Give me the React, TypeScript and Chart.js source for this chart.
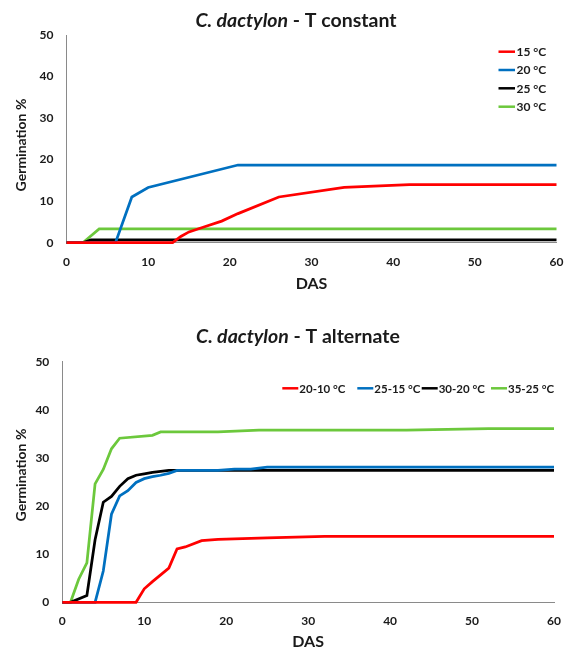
import React, { useEffect, useRef } from 'react';
import { Chart, registerables } from 'chart.js';
Chart.register(...registerables);

const FONT = 'Lato, "Open Sans", "DejaVu Sans", sans-serif';
const TEXT = '#1a1a1a';
const AXIS = '#8a8a8a';

// ---------- Top chart: constant temperatures ----------
const constLabels = ['15 °C', '20 °C', '25 °C', '30 °C'];
const c15Days = [0, 13, 14, 15, 17, 19, 21, 26, 34, 42, 60];
const c15Vals = [0, 0, 1.5, 2.6, 3.9, 5.2, 7.0, 11.0, 13.3, 14.0, 14.0];
const c20Days = [0, 6, 8, 10, 21, 60];
const c20Vals = [0, 0, 11.0, 13.3, 18.7, 18.7];
const c25Days = [0, 2, 3, 60];
const c25Vals = [0, 0, 0.7, 0.7];
const c30Days = [0, 2, 4, 60];
const c30Vals = [0, 0, 3.3, 3.3];

// ---------- Bottom chart: alternating temperatures ----------
const altLabels = ['20-10 °C', '25-15 °C', '30-20 °C', '35-25 °C'];
const a2010Days = [0, 9, 10, 11, 12, 13, 14, 15, 17, 19, 25, 32, 60];
const a2010Vals = [0, 0, 2.8, 4.3, 5.7, 7.1, 11.1, 11.5, 12.8, 13.1, 13.4, 13.7, 13.7];
const a2515Days = [0, 4, 5, 6, 7, 8, 9, 10, 11, 12, 13, 14, 19, 21, 23, 25, 60];
const a2515Vals = [0, 0, 6.5, 18.3, 22.1, 23.2, 24.9, 25.7, 26.1, 26.4, 26.8, 27.4, 27.4, 27.7, 27.7, 28.1, 28.1];
const a3020Days = [0, 1, 3, 4, 5, 6, 7, 8, 9, 10, 11, 12, 13, 60];
const a3020Vals = [0, 0, 1.4, 13.0, 20.8, 22.0, 24.1, 25.7, 26.4, 26.7, 27.0, 27.2, 27.4, 27.4];
const a3525Days = [0, 1, 2, 3, 4, 5, 6, 7, 11, 12, 19, 24, 42, 52, 60];
const a3525Vals = [0, 0, 4.8, 8.2, 24.6, 27.6, 31.9, 34.1, 34.7, 35.4, 35.4, 35.8, 35.8, 36.1, 36.1];

const seriesColors = ['#ff0000', '#0070c0', '#000000', '#6cc83c'];
const xMin = 0, xMax = 60, xStep = 10;
const yMin = 0, yMax = 50, yStep = 10;
const xTitle = 'DAS';
const yTitle = 'Germination %';

type Geom = {
  H: number; left: number; right: number; top: number; bottom: number;
  titleX: number; titleBase: number; dasY: number; germX: number; germY: number;
  legend: 'vertical' | 'horizontal';
};

const pts = (d: number[], v: number[]) => d.map((x, i) => ({ x, y: v[i] }));

function overlay(geom: Geom, titleItalic: string, titleRest: string, labels: string[]) {
  return {
    id: 'overlay',
    afterDraw(chart: any) {
      const ctx = chart.ctx as CanvasRenderingContext2D;
      ctx.save();
      ctx.fillStyle = TEXT;
      // title
      const f1 = `italic bold 19.5px ${FONT}`;
      const f2 = `bold 19.5px ${FONT}`;
      ctx.font = f1; const w1 = ctx.measureText(titleItalic).width;
      ctx.font = f2; const w2 = ctx.measureText(titleRest).width;
      const x = geom.titleX - (w1 + w2) / 2;
      ctx.textBaseline = 'alphabetic'; ctx.textAlign = 'left';
      ctx.font = f1; ctx.fillText(titleItalic, x, geom.titleBase);
      ctx.font = f2; ctx.fillText(titleRest, x + w1, geom.titleBase);
      // axis titles
      ctx.textAlign = 'center'; ctx.textBaseline = 'middle';
      ctx.font = `bold 16px ${FONT}`;
      ctx.fillText(xTitle, (geom.left + geom.right) / 2, geom.dasY);
      ctx.save();
      ctx.translate(geom.germX, geom.germY);
      ctx.rotate(-Math.PI / 2);
      ctx.font = `bold 14px ${FONT}`;
      ctx.fillText(yTitle, 0, 0);
      ctx.restore();
      // legend
      ctx.textAlign = 'left'; ctx.textBaseline = 'middle';
      ctx.lineWidth = 2.5;
      if (geom.legend === 'vertical') {
        ctx.font = `bold 12px ${FONT}`;
        const ys = [51.7, 70, 88.3, 106.7];
        labels.forEach((lab, i) => {
          ctx.strokeStyle = seriesColors[i];
          ctx.beginPath(); ctx.moveTo(498.5, ys[i]); ctx.lineTo(515, ys[i]); ctx.stroke();
          ctx.fillStyle = TEXT; ctx.fillText(lab, 516.5, ys[i] + 0.5);
        });
      } else {
        ctx.font = `bold 11.5px ${FONT}`;
        const y = 88.3;
        const starts = [282.3, 357.3, 421.7, 491];
        labels.forEach((lab, i) => {
          const lx = starts[i];
          ctx.strokeStyle = seriesColors[i];
          ctx.beginPath(); ctx.moveTo(lx, y); ctx.lineTo(lx + 16, y); ctx.stroke();
          ctx.fillStyle = TEXT; ctx.fillText(lab, lx + 17, y + 0.5);
        });
      }
      ctx.restore();
    },
  };
}

function makeConfig(geom: Geom, series: { label: string; days: number[]; vals: number[] }[], tItalic: string, tRest: string): any {
  return {
    type: 'line',
    data: {
      datasets: series.map((s, i) => ({
        label: s.label,
        data: pts(s.days, s.vals),
        borderColor: seriesColors[i],
        backgroundColor: seriesColors[i],
        borderWidth: 2.75,
        pointRadius: 0,
        tension: 0,
        clip: false,
        fill: false,
      })),
    },
    options: {
      responsive: false,
      animation: false,
      layout: { padding: { left: 0, top: geom.top, right: 565 - geom.right, bottom: 0 } },
      plugins: { legend: { display: false }, title: { display: false }, tooltip: { enabled: false } },
      scales: {
        x: {
          type: 'linear', min: xMin, max: xMax,
          ticks: { stepSize: xStep, padding: 0, color: TEXT, font: { family: FONT, size: 12, weight: 'bold' } },
          grid: { display: true, drawOnChartArea: false, drawTicks: true, tickLength: 12, color: 'rgba(0,0,0,0)' },
          border: { display: true, color: AXIS, width: 1 },
          afterFit: (s: any) => { s.height = geom.H - geom.bottom; },
        },
        y: {
          type: 'linear', min: yMin, max: yMax,
          ticks: { stepSize: yStep, padding: 0, color: TEXT, font: { family: FONT, size: 12, weight: 'bold' } },
          grid: { display: true, drawOnChartArea: false, drawTicks: true, tickLength: 13, color: 'rgba(0,0,0,0)' },
          border: { display: true, color: AXIS, width: 1 },
          afterFit: (s: any) => { s.width = geom.left; },
        },
      },
    },
    plugins: [overlay(geom, tItalic, tRest, series.map((s) => s.label))],
  };
}

const topGeom: Geom = { H: 300, left: 66.5, right: 556.5, top: 35, bottom: 242.7, titleX: 296, titleBase: 27, dasY: 284, germX: 21, germY: 145, legend: 'vertical' };
const botGeom: Geom = { H: 352, left: 62.3, right: 554, top: 61.7, bottom: 302.3, titleX: 298, titleBase: 42.7, dasY: 342, germX: 21.5, germY: 175, legend: 'horizontal' };

function ChartCanvas({ cfg, w, h, top }: { cfg: () => any; w: number; h: number; top: number }) {
  const ref = useRef<HTMLCanvasElement>(null);
  useEffect(() => {
    if (!ref.current) return;
    const c = new Chart(ref.current, cfg());
    return () => c.destroy();
  }, []);
  return <canvas ref={ref} width={w} height={h} style={{ position: 'absolute', left: 0, top, width: w, height: h, display: 'block' }} />;
}

export default function App() {
  const topSeries = [
    { label: constLabels[0], days: c15Days, vals: c15Vals },
    { label: constLabels[1], days: c20Days, vals: c20Vals },
    { label: constLabels[2], days: c25Days, vals: c25Vals },
    { label: constLabels[3], days: c30Days, vals: c30Vals },
  ];
  const botSeries = [
    { label: altLabels[0], days: a2010Days, vals: a2010Vals },
    { label: altLabels[1], days: a2515Days, vals: a2515Vals },
    { label: altLabels[2], days: a3020Days, vals: a3020Vals },
    { label: altLabels[3], days: a3525Days, vals: a3525Vals },
  ];
  return (
    <div style={{ position: 'absolute', left: 0, top: 0, width: 565, height: 652, background: '#fff' }}>
      <ChartCanvas w={565} h={300} top={0} cfg={() => makeConfig(topGeom, topSeries, 'C. dactylon', ' - T constant')} />
      <ChartCanvas w={565} h={352} top={300} cfg={() => makeConfig(botGeom, botSeries, 'C. dactylon', ' - T alternate')} />
    </div>
  );
}
